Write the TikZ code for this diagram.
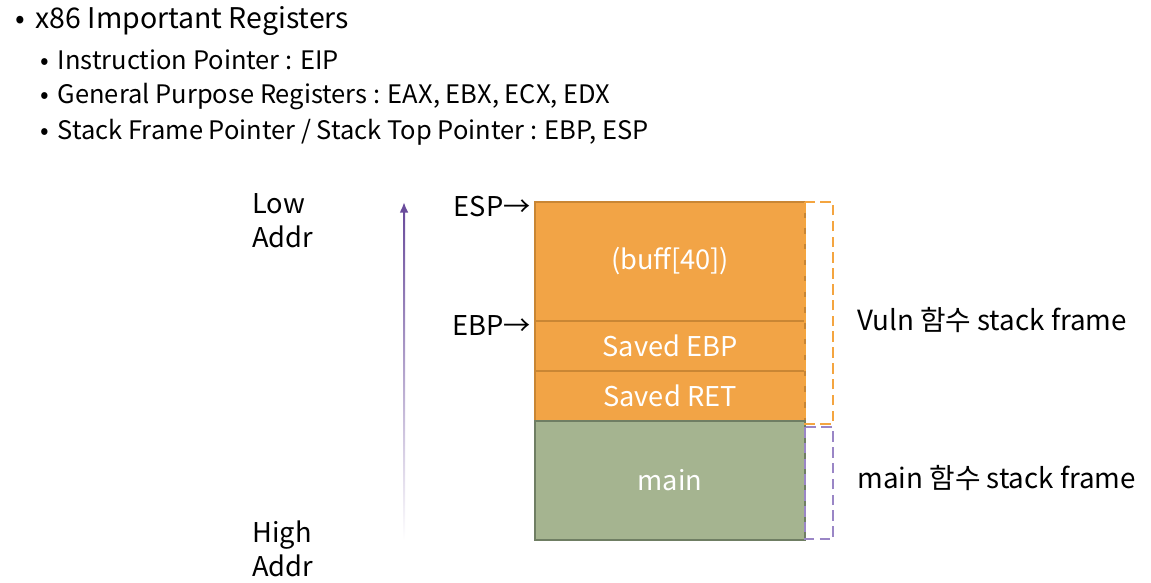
\documentclass[tikz,border=0pt]{standalone}
\usepackage{fontspec}
\setmainfont{Noto Sans CJK KR}
\usepackage{tikz}
\usetikzlibrary{positioning,arrows.meta,calc}

\definecolor{stackorange}{HTML}{F2A446}
\definecolor{stackorangeline}{HTML}{C98634}
\definecolor{stackgreen}{HTML}{A5B490}
\definecolor{stackgreenline}{HTML}{6F7E63}
\definecolor{frameorange}{HTML}{F4A540}
\definecolor{framepurple}{HTML}{9A86C6}
\definecolor{addrpurple}{HTML}{6A4C9C}

\tikzset{
  cell/.style={draw, rectangle, minimum width=5.4cm, inner sep=0pt, outer sep=0pt,
    text=white, font=\fontsize{15.5}{19}\selectfont},
  vulncell/.style={cell, fill=stackorange, draw=stackorangeline, line width=0.7pt},
  maincell/.style={cell, fill=stackgreen, draw=stackgreenline, line width=0.7pt},
  label/.style={inner sep=0pt, font=\fontsize{15.5}{19.5}\selectfont},
  framelabel/.style={label, anchor=west, font=\fontsize{15.8}{19.5}\selectfont},
  header/.style={inner sep=0pt, anchor=west, font=\fontsize{16.2}{20}\selectfont},
  subheader/.style={inner sep=0pt, anchor=west, font=\fontsize{14.5}{18}\selectfont},
  frame/.style={line width=1pt, dash pattern=on 6pt off 3pt}
}

\begin{document}
\begin{tikzpicture}[x=0.02cm, y=-0.02cm]
\useasboundingbox (0,0) rectangle (1151,582);

% header
\node [header] (title) at (15,21) {•\hspace{6pt}x86 Important Registers};
\node [subheader] (eip) at (40,60) {•\hspace{5pt}Instruction Pointer : EIP};
\node [subheader] (gpr) at (40,97) {•\hspace{5pt}General Purpose Registers : EAX, EBX, ECX, EDX};
\node [subheader] (sfp) at (40,132) {•\hspace{5pt}Stack Frame Pointer / Stack Top Pointer : EBP, ESP};

% stack
\node [vulncell, anchor=north west, minimum height=2.38cm] (buff) at (535,202) {(buff[40])};
\node [vulncell, below=0pt of buff, minimum height=1cm] (sebp) {Saved EBP};
\node [vulncell, below=0pt of sebp, minimum height=1cm] (sret) {Saved RET};
\node [maincell, below=0pt of sret, minimum height=2.38cm] (main) {main};

% frames
\draw [frame, frameorange] (buff.north east) rectangle (833,424);
\draw [frame, framepurple] (805,427) rectangle (833,539);
\node [framelabel] (vulnframe) at (857,320) {Vuln 함수 stack frame};
\node [framelabel] (mainframe) at (857,478) {main 함수 stack frame};

% pointers
\node [label, anchor=east] (esp) at ($(buff.north west)+(-4,5)$) {ESP→};
\node [label, anchor=east] (ebp) at ($(sebp.north west)+(-4,5)$) {EBP→};

% address direction
\coordinate (addrhi) at (404,202);
\coordinate (addrlo) at (404,540);
\shade [top color=addrpurple, bottom color=white] ($(addrhi)+(-1,8)$) rectangle ($(addrlo)+(1,0)$);
\draw [addrpurple, line width=1.5pt, -{Latex[length=6pt,width=5pt]}] ($(addrhi)+(0,10)$) -- (addrhi);
\node [label, anchor=north west, align=left] (lowaddr) at (252,193) {Low\\Addr};
\node [label, anchor=north west, align=left] (highaddr) at (252,520) {High\\Addr};

\end{tikzpicture}
\end{document}
